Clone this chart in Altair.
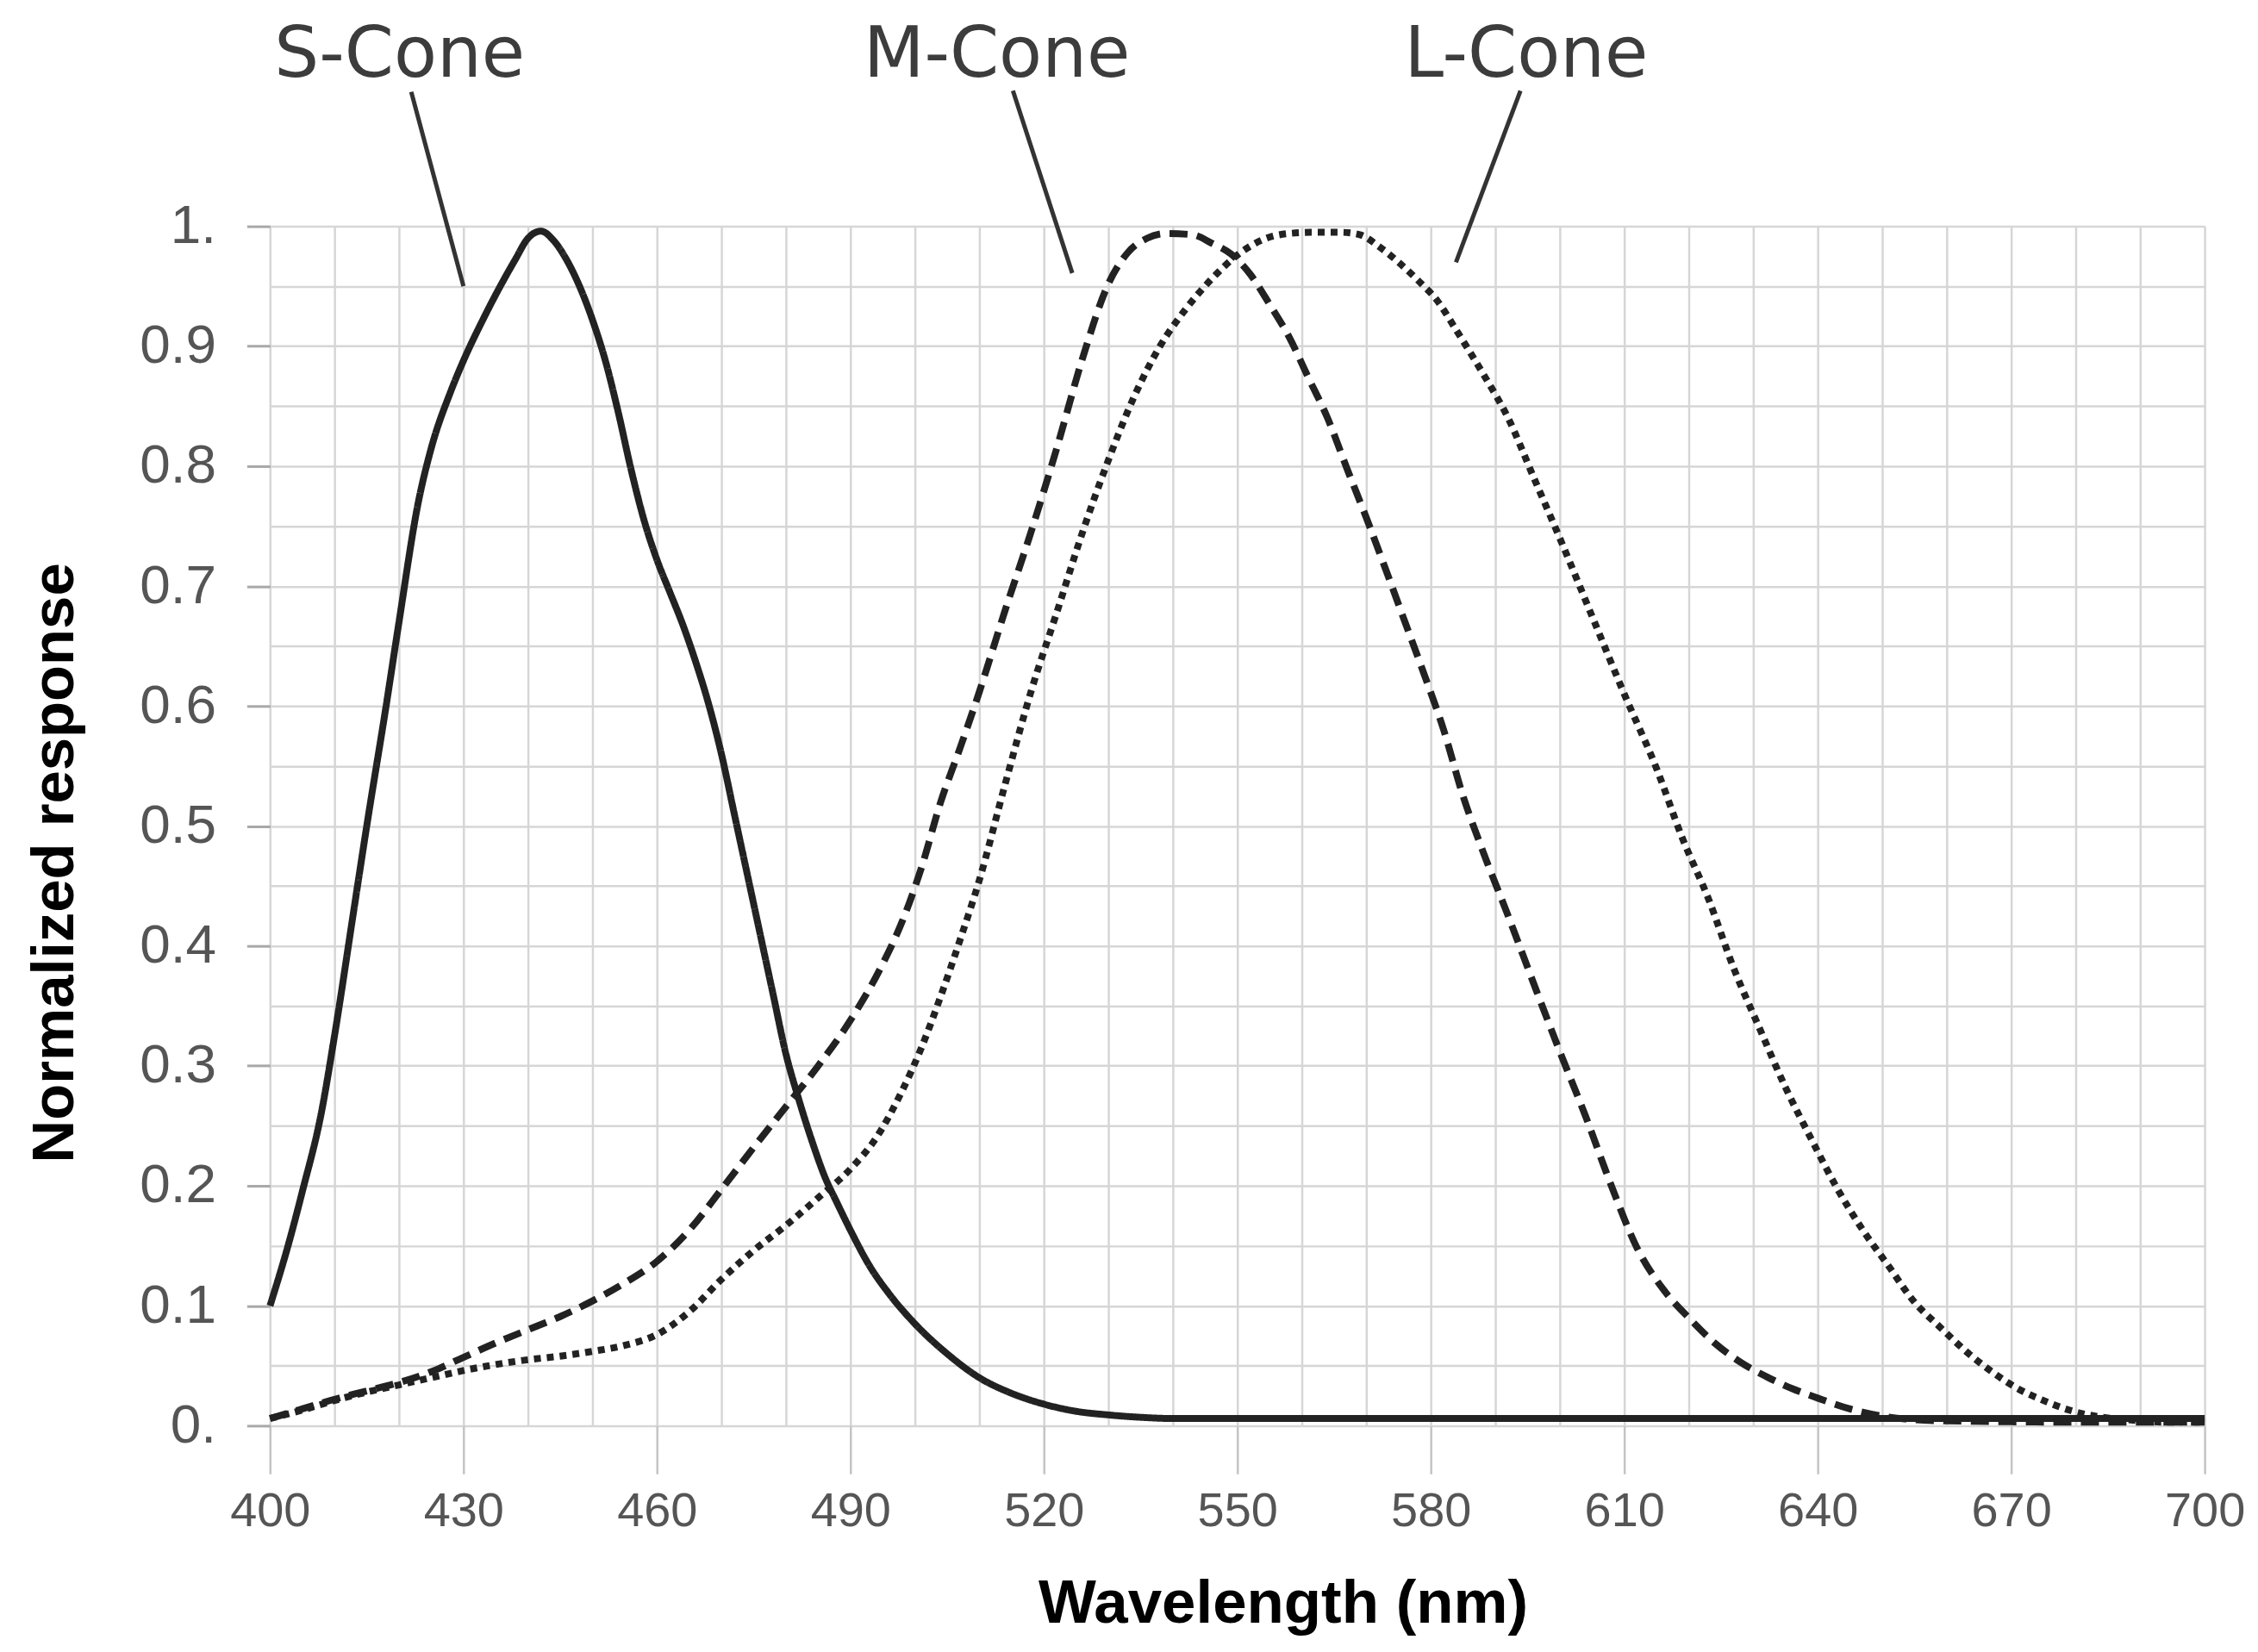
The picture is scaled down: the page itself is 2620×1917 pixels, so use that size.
import altair as alt
import pandas as pd

# ---- data ----
S_NM = [400, 403, 405, 408, 410, 413, 415, 418, 420, 423, 425, 428, 430, 433, 435, 438, 440, 442,
        444, 446, 448, 450, 452, 454, 456, 458, 460, 462, 464, 466, 468, 470, 472, 474, 476, 478,
        480, 482, 484, 486, 488, 490, 493, 496, 500, 505, 510, 515, 520, 525, 530, 535, 540, 560,
        600, 650, 700]
S_VAL = [0.10, 0.154, 0.195, 0.262, 0.325, 0.43, 0.50, 0.60, 0.67, 0.77, 0.815, 0.862, 0.888,
         0.922, 0.943, 0.972, 0.99, 0.996, 0.988, 0.972, 0.95, 0.922, 0.888, 0.845, 0.797, 0.755,
         0.722, 0.695, 0.668, 0.637, 0.602, 0.56, 0.51, 0.46, 0.41, 0.36, 0.31, 0.272, 0.238, 0.208,
         0.185, 0.163, 0.133, 0.11, 0.085, 0.06, 0.04, 0.027, 0.018, 0.012, 0.009, 0.007, 0.006,
         0.006, 0.006, 0.006, 0.006]

M_NM = [400, 405, 410, 415, 420, 425, 430, 435, 440, 445, 450, 455, 460, 465, 470, 475, 480, 485,
        490, 495, 498, 501, 504, 507, 510, 514, 518, 522, 526, 530, 533, 536, 539, 543, 546, 549,
        552, 555, 558, 561, 564, 567, 570, 573, 576, 579, 582, 585, 588, 592, 596, 600, 604, 608,
        612, 616, 620, 624, 628, 632, 636, 640, 645, 650, 655, 660, 680, 700]
M_VAL = [0.006, 0.014, 0.022, 0.029, 0.036, 0.045, 0.057, 0.069, 0.08, 0.091, 0.104, 0.119, 0.137,
         0.163, 0.197, 0.232, 0.266, 0.30, 0.338, 0.385, 0.42, 0.465, 0.52, 0.565, 0.612, 0.68,
         0.745, 0.815, 0.89, 0.952, 0.978, 0.99, 0.994, 0.993, 0.986, 0.977, 0.96, 0.935, 0.908,
         0.874, 0.84, 0.798, 0.757, 0.714, 0.67, 0.626, 0.58, 0.525, 0.48, 0.425, 0.368, 0.312,
         0.258, 0.20, 0.148, 0.114, 0.09, 0.069, 0.053, 0.041, 0.031, 0.023, 0.014, 0.008, 0.005,
         0.004, 0.003, 0.003]

L_NM = [400, 405, 410, 415, 420, 425, 430, 435, 440, 445, 450, 455, 460, 465, 470, 475, 480, 485,
        490, 494, 498, 501, 504, 507, 510, 514, 518, 522, 526, 530, 534, 538, 542, 546, 550, 554,
        558, 562, 566, 569, 572, 575, 578, 581, 584, 588, 592, 596, 600, 605, 610, 615, 619, 623,
        627, 631, 635, 639, 643, 647, 651, 655, 659, 663, 667, 671, 675, 679, 683, 688, 694, 700]
L_VAL = [0.006, 0.013, 0.021, 0.028, 0.034, 0.04, 0.046, 0.051, 0.055, 0.058, 0.062, 0.067, 0.076,
         0.095, 0.122, 0.146, 0.167, 0.19, 0.214, 0.24, 0.279, 0.315, 0.358, 0.405, 0.455, 0.535,
         0.612, 0.678, 0.745, 0.805, 0.858, 0.90, 0.931, 0.956, 0.976, 0.989, 0.994, 0.995, 0.995,
         0.993, 0.983, 0.97, 0.955, 0.938, 0.913, 0.878, 0.84, 0.79, 0.74, 0.675, 0.61, 0.548,
         0.49, 0.44, 0.381, 0.331, 0.282, 0.239, 0.198, 0.163, 0.133, 0.103, 0.082, 0.062, 0.045,
         0.031, 0.021, 0.013, 0.008, 0.005, 0.003, 0.003]

# labels and leader lines (text position and pointer end points, in data units)
LABELS = ["S-Cone", "M-Cone", "L-Cone"]
LABEL_NM = [420.1, 512.7, 594.8]
LABEL_V = [1.143, 1.143, 1.143]
LEAD_NM1 = [421.9, 515.2, 593.9]
LEAD_V1 = [1.112, 1.113, 1.113]
LEAD_NM2 = [430.0, 524.4, 583.9]
LEAD_V2 = [0.95, 0.961, 0.97]

X_TICKS = list(range(400, 701, 10))
Y_TICKS = [round(i * 0.05, 2) for i in range(21)]

rows = []
for name, xs, ys in (("S", S_NM, S_VAL), ("M", M_NM, M_VAL), ("L", L_NM, L_VAL)):
    for a, b in zip(xs, ys):
        rows.append({"nm": a, "v": b, "cone": name})
curves = pd.DataFrame(rows)

labels = pd.DataFrame({"text": LABELS, "nm": LABEL_NM, "v": LABEL_V})
leaders = pd.DataFrame({"nm": LEAD_NM1, "v": LEAD_V1, "nm2": LEAD_NM2, "v2": LEAD_V2})

SANS = "Liberation Sans"

x_scale = alt.Scale(domain=[400, 700], nice=False, zero=False)
y_scale = alt.Scale(domain=[0, 1], nice=False, zero=False)

x_axis = alt.Axis(
    values=X_TICKS, grid=True, gridColor="#d6d6d6", gridWidth=2.5, domain=False,
    tickColor="#c4c4c4", tickWidth=2.5, tickSize=56,
    tickOpacity={"condition": {"test": "(datum.value - 400) % 30 == 0", "value": 1}, "value": 0},
    labelExpr="(datum.value - 400) % 30 == 0 ? datum.label : ''",
    labelOverlap=False, labelFlush=False, labelBound=False,
    labelFont=SANS, labelFontSize=56, labelColor="#555555", labelPadding=16,
    title="Wavelength (nm)", titleFont=SANS, titleFontSize=71, titleFontWeight="bold",
    titleColor="#000000", titleX=1178, titleY=229, titleBaseline="alphabetic", titleAlign="center",
)
y_axis = alt.Axis(
    values=Y_TICKS, grid=True, gridColor="#d6d6d6", gridWidth=2.5, domain=False,
    tickColor="#a8a8a8", tickWidth=3, tickSize=27,
    tickOpacity={"condition": {"test": "round(datum.value * 100) % 10 == 0", "value": 1}, "value": 0},
    labelExpr="round(datum.value * 100) % 10 == 0 ? (datum.value == 0 ? '0.' : (datum.value == 1 ? '1.' : format(datum.value, '.1f'))) : ''",
    labelOverlap=False, labelFlush=False, labelBound=False,
    labelFont=SANS, labelFontSize=64, labelColor="#555555", labelPadding=36,
    title="Normalized response", titleFont=SANS, titleFontSize=69, titleFontWeight="bold",
    titleColor="#000000", titleX=-229, titleY=740, titleAngle=270, titleBaseline="alphabetic",
    titleAlign="center",
)

lines = alt.Chart(curves).mark_line(
    color="#222222", strokeWidth=8, interpolate="monotone", strokeCap="butt"
).encode(
    x=alt.X("nm:Q", scale=x_scale, axis=x_axis),
    y=alt.Y("v:Q", scale=y_scale, axis=y_axis),
    strokeDash=alt.StrokeDash(
        "cone:N",
        scale=alt.Scale(domain=["S", "M", "L"], range=[[1, 0], [21, 11], [8, 7]]),
        legend=None,
    ),
    detail="cone:N",
)

lead = alt.Chart(leaders).mark_rule(color="#333333", strokeWidth=5).encode(
    x="nm:Q", y="v:Q", x2="nm2:Q", y2="v2:Q"
)

text = alt.Chart(labels).mark_text(
    font="DejaVu Sans", fontSize=82, color="#3c3c3c", baseline="middle", align="center"
).encode(x="nm:Q", y="v:Q", text="text:N")

chart = alt.layer(lines, lead, text).properties(
    width=2250, height=1395,
    autosize=alt.AutoSizeParams(type="none"),
    padding={"left": 306, "top": 253, "right": 54, "bottom": 253},
).configure_view(stroke="#c4c4c4", strokeWidth=3).configure(background="white")

chart.save("out.html", embed_options={"renderer": "svg", "actions": False})
